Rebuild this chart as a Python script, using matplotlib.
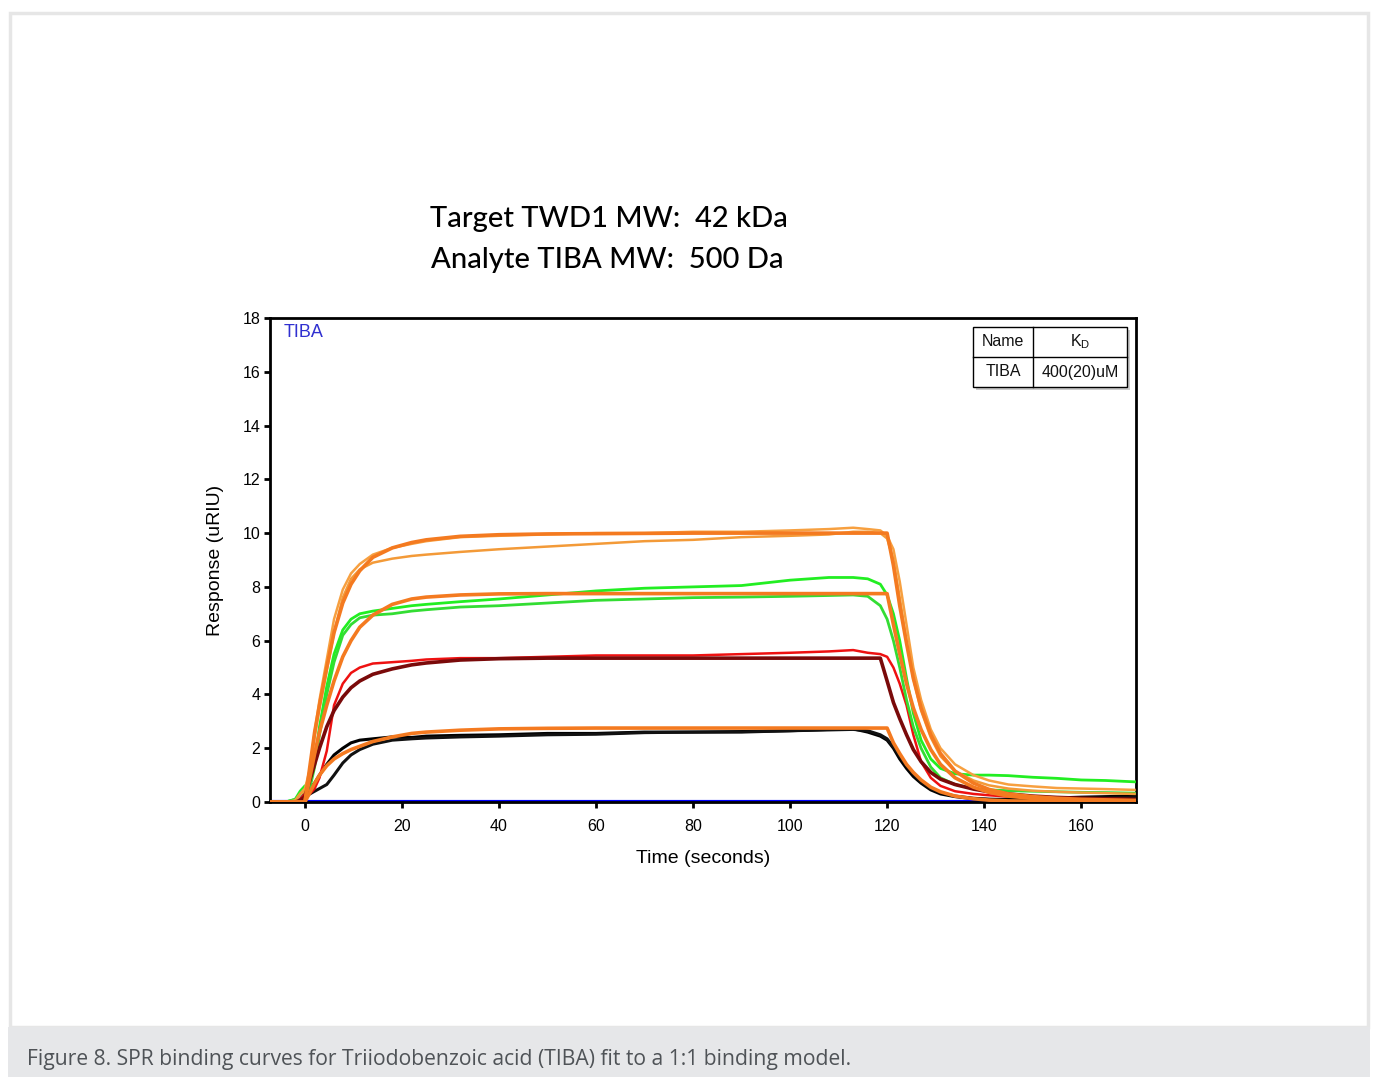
import matplotlib
matplotlib.use("Agg")
import matplotlib.pyplot as plt
from matplotlib.patches import Rectangle

# ---------------- data ----------------
TIME = [-7, -4, -2, -1, 0, 1, 2, 3, 4.5, 6, 7.8, 9.5, 11.3, 14, 18, 22, 25, 32, 40, 50,
        60, 70, 80, 90, 100, 108, 113, 116, 118.6, 120, 121.3, 122.6, 124, 125.4, 127,
        129, 131, 134, 137.8, 141, 145, 150, 155, 160, 165, 171]

BLACK_1 = [0, 0, 0, 0.1, 0.3, 0.5, 0.7, 1.0, 1.4, 1.75, 2.0, 2.2, 2.3, 2.35, 2.42, 2.4,
           2.45, 2.48, 2.5, 2.55, 2.55, 2.6, 2.6, 2.62, 2.65, 2.7, 2.72, 2.6, 2.45, 2.3,
           2.0, 1.6, 1.25, 0.95, 0.7, 0.45, 0.3, 0.2, 0.12, 0.1, 0.1, 0.12, 0.15, 0.18,
           0.2, 0.22]
BLACK_2 = [0, 0, 0, 0.05, 0.15, 0.3, 0.4, 0.5, 0.65, 1.0, 1.45, 1.75, 1.95, 2.15, 2.3,
           2.35, 2.38, 2.42, 2.45, 2.5, 2.52, 2.58, 2.6, 2.6, 2.65, 2.68, 2.7, 2.65, 2.5,
           2.35, 2.05, 1.7, 1.35, 1.05, 0.75, 0.5, 0.35, 0.22, 0.14, 0.1, 0.08, 0.1,
           0.12, 0.14, 0.15, 0.17]
FIT_LOW = [0, 0, 0, 0, 0, 0.35, 0.7, 1.0, 1.35, 1.6, 1.8, 1.95, 2.07, 2.25, 2.42, 2.55,
           2.6, 2.67, 2.72, 2.74, 2.75, 2.75, 2.75, 2.75, 2.75, 2.75, 2.75, 2.75, 2.75,
           2.75, 2.2, 1.8, 1.4, 1.1, 0.82, 0.55, 0.38, 0.22, 0.12, 0.07, 0.04, 0.03,
           0.02, 0.02, 0.02, 0.02]
RED = [0, 0, 0, 0.1, 0.3, 0.3, 0.5, 0.9, 1.9, 3.6, 4.4, 4.8, 5.0, 5.15, 5.2, 5.25, 5.3,
       5.35, 5.35, 5.4, 5.45, 5.45, 5.45, 5.5, 5.55, 5.6, 5.65, 5.55, 5.5, 5.4, 5.0, 4.4,
       3.6, 2.5, 1.5, 0.9, 0.6, 0.4, 0.3, 0.25, 0.2, 0.18, 0.15, 0.12, 0.12, 0.1]
MAROON = [0, 0, 0, 0.05, 0.2, 0.8, 1.4, 2.0, 2.8, 3.4, 3.9, 4.25, 4.5, 4.75, 4.95, 5.1,
          5.17, 5.28, 5.33, 5.35, 5.35, 5.35, 5.35, 5.35, 5.35, 5.35, 5.35, 5.35, 5.35,
          4.5, 3.7, 3.1, 2.5, 1.95, 1.5, 1.1, 0.85, 0.65, 0.48, 0.38, 0.3, 0.22, 0.17,
          0.14, 0.12, 0.1]
GREEN_1 = [0, 0, 0.1, 0.4, 0.6, 0.6, 1.5, 2.8, 4.3, 5.5, 6.4, 6.8, 7.0, 7.1, 7.2, 7.3,
           7.35, 7.45, 7.55, 7.7, 7.85, 7.95, 8.0, 8.05, 8.25, 8.35, 8.35, 8.3, 8.1, 7.7,
           7.0, 6.0, 4.6, 3.3, 2.3, 1.6, 1.25, 1.05, 1.0, 1.0, 0.98, 0.92, 0.88, 0.82,
           0.8, 0.75]
GREEN_2 = [0, 0, 0.1, 0.3, 0.5, 0.5, 1.3, 2.5, 4.0, 5.2, 6.2, 6.6, 6.85, 6.95, 7.0, 7.1,
           7.15, 7.25, 7.3, 7.4, 7.5, 7.55, 7.6, 7.62, 7.65, 7.68, 7.7, 7.65, 7.3, 6.8,
           6.0, 5.0, 3.8, 2.8, 2.0, 1.3, 0.9, 0.65, 0.5, 0.45, 0.42, 0.4, 0.38, 0.36,
           0.35, 0.33]
FIT_MID = [0, 0, 0, 0, 0, 0.9, 1.8, 2.6, 3.6, 4.5, 5.4, 6.0, 6.5, 6.95, 7.35, 7.55, 7.62,
           7.7, 7.74, 7.75, 7.75, 7.75, 7.75, 7.75, 7.75, 7.75, 7.75, 7.75, 7.75, 7.75,
           6.6, 5.5, 4.4, 3.5, 2.7, 1.95, 1.4, 0.9, 0.55, 0.36, 0.22, 0.13, 0.08, 0.05,
           0.04, 0.03]
ORANGE_1 = [0, 0, 0.05, 0.3, 0.5, 1.2, 2.6, 3.8, 5.3, 6.8, 7.9, 8.5, 8.85, 9.2, 9.45, 9.6,
            9.7, 9.85, 9.9, 9.95, 10.0, 10.0, 10.05, 10.05, 10.1, 10.15, 10.2, 10.15, 10.1,
            9.9, 9.4, 8.2, 6.6, 5.0, 3.8, 2.7, 2.0, 1.4, 1.0, 0.8, 0.65, 0.58, 0.52, 0.5,
            0.48, 0.45]
ORANGE_2 = [0, 0, 0.05, 0.3, 0.4, 1.1, 2.4, 3.5, 4.9, 6.3, 7.6, 8.3, 8.65, 8.9, 9.05, 9.15,
            9.2, 9.3, 9.4, 9.5, 9.6, 9.7, 9.75, 9.85, 9.9, 9.95, 10.05, 10.05, 10.0, 9.8,
            9.0, 7.6, 6.0, 4.6, 3.4, 2.4, 1.7, 1.15, 0.8, 0.62, 0.5, 0.42, 0.38, 0.35,
            0.33, 0.3]
FIT_TOP = [0, 0, 0, 0, 0, 1.3, 2.6, 3.6, 5.0, 6.3, 7.4, 8.1, 8.6, 9.1, 9.45, 9.65, 9.75,
           9.88, 9.94, 9.97, 9.98, 9.99, 10.0, 10.0, 10.0, 10.0, 10.0, 10.0, 10.0, 10.0,
           8.8, 7.3, 5.9, 4.6, 3.5, 2.5, 1.8, 1.15, 0.7, 0.47, 0.3, 0.2, 0.14, 0.1, 0.08,
           0.06]
BLANK_TIME = [-7.2, 171.3]
BLANK = [0.0, 0.0]

X_TICKS = [0, 20, 40, 60, 80, 100, 120, 140, 160]
Y_TICKS = [0, 2, 4, 6, 8, 10, 12, 14, 16, 18]

TITLE_1 = "Target TWD1 MW:  42 kDa"
TITLE_2 = "Analyte TIBA MW:  500 Da"
CAPTION = "Figure 8. SPR binding curves for Triiodobenzoic acid (TIBA) fit to a 1:1 binding model."

# ---------------- figure ----------------
W, H = 1375, 1077
fig = plt.figure(figsize=(W / 100, H / 100), dpi=100)
fig.patch.set_facecolor("white")

def fx(px):
    return px / W

def fy(py):
    return 1 - py / H

# outer frame and caption band
fig.patches.append(Rectangle((fx(9.5), fy(1027)), fx(1358), fy(13) - fy(1027),
                             transform=fig.transFigure, facecolor="none",
                             edgecolor="#e6e6e6", linewidth=2.5, zorder=0))
fig.patches.append(Rectangle((fx(8), 0), fx(1362), fy(1027),
                             transform=fig.transFigure, facecolor="#e6e7e9",
                             edgecolor="none", zorder=1))
fig.text(fx(27), fy(1059), CAPTION, fontsize=15.2, color="#4f5357",
         family=["Open Sans", "DejaVu Sans"], ha="left", va="center")

# titles
tkw = dict(fontsize=21, family=["Lato", "DejaVu Sans"], fontweight="medium",
           ha="center", va="center", color="black")
fig.text(fx(609), fy(219), TITLE_1, **tkw)
fig.text(fx(607), fy(260), TITLE_2, **tkw)

# axes
ax = fig.add_axes([fx(270), fy(802), fx(1136) - fx(270), fy(318) - fy(802)])
ax.set_xlim(-7.2, 171.3)
ax.set_ylim(0, 18)
for s in ax.spines.values():
    s.set_linewidth(2)
    s.set_color("black")
ax.set_xticks(X_TICKS)
ax.set_yticks(Y_TICKS)
ax.tick_params(direction="out", length=4, width=2, labelsize=11.5)
ax.tick_params(axis="x", pad=8)
ax.tick_params(axis="y", pad=3)
for lab in ax.get_xticklabels() + ax.get_yticklabels():
    lab.set_family(["Liberation Sans", "DejaVu Sans"])
ax.set_xlabel("Time (seconds)", fontsize=14, family=["Liberation Sans", "DejaVu Sans"],
              labelpad=12)
ax.set_ylabel("Response (uRIU)", fontsize=14, family=["Liberation Sans", "DejaVu Sans"],
              labelpad=13)

ax.plot(BLANK_TIME, BLANK, color="#0000ff", lw=3, zorder=2, solid_capstyle="butt")
ax.plot(TIME, BLACK_1, color="black", lw=2.2, zorder=3)
ax.plot(TIME, BLACK_2, color="#111111", lw=2.2, zorder=3)
ax.plot(TIME, FIT_LOW, color="#f47a20", lw=2.6, zorder=4)
ax.plot(TIME, RED, color="#ee1111", lw=1.8, zorder=3)
ax.plot(TIME, MAROON, color="#7a0a0a", lw=2.6, zorder=4)
ax.plot(TIME, GREEN_1, color="#22ee22", lw=2, zorder=3)
ax.plot(TIME, GREEN_2, color="#33dd33", lw=2, zorder=3)
ax.plot(TIME, FIT_MID, color="#f47a20", lw=2.6, zorder=4)
ax.plot(TIME, ORANGE_1, color="#f7a040", lw=1.8, zorder=3)
ax.plot(TIME, ORANGE_2, color="#f39a38", lw=1.8, zorder=3)
ax.plot(TIME, FIT_TOP, color="#f47a20", lw=2.6, zorder=4)

ax.text(0.016, 0.988, "TIBA", transform=ax.transAxes, color="#3030d0", fontsize=13,
        family=["Liberation Sans", "DejaVu Sans"], ha="left", va="top")

# KD table (figure pixel coordinates)
plt.rcParams["mathtext.fontset"] = "custom"
plt.rcParams["mathtext.rm"] = "Liberation Sans"
tx0, tx1, tx2 = 973, 1033, 1127
ty0, ty1, ty2 = 327, 357, 387
fig.patches.append(Rectangle((fx(tx0 + 3), fy(ty2 + 3)), fx(tx2 - tx0), fy(ty0) - fy(ty2),
                             transform=fig.transFigure, facecolor="#cccccc",
                             edgecolor="none", zorder=5))
fig.patches.append(Rectangle((fx(tx0), fy(ty2)), fx(tx2 - tx0), fy(ty0) - fy(ty2),
                             transform=fig.transFigure, facecolor="white",
                             edgecolor="black", linewidth=1, zorder=6))
fig.lines.append(plt.Line2D([fx(tx0), fx(tx2)], [fy(ty1), fy(ty1)], transform=fig.transFigure,
                            color="black", lw=1, zorder=7))
fig.lines.append(plt.Line2D([fx(tx1), fx(tx1)], [fy(ty0), fy(ty2)], transform=fig.transFigure,
                            color="black", lw=1, zorder=7))
tfont = dict(fontsize=11.5, family=["Liberation Sans", "DejaVu Sans"], ha="center",
             va="center", color="#111111", zorder=8)
fig.text(fx((tx0 + tx1) / 2), fy((ty0 + ty1) / 2), "Name", **tfont)
fig.text(fx((tx1 + tx2) / 2), fy((ty0 + ty1) / 2), r"K$_{\mathrm{D}}$", **tfont)
fig.text(fx((tx0 + tx1) / 2), fy((ty1 + ty2) / 2), "TIBA", **tfont)
fig.text(fx((tx1 + tx2) / 2), fy((ty1 + ty2) / 2), "400(20)uM", **tfont)

fig.savefig("out.png", dpi=100)
